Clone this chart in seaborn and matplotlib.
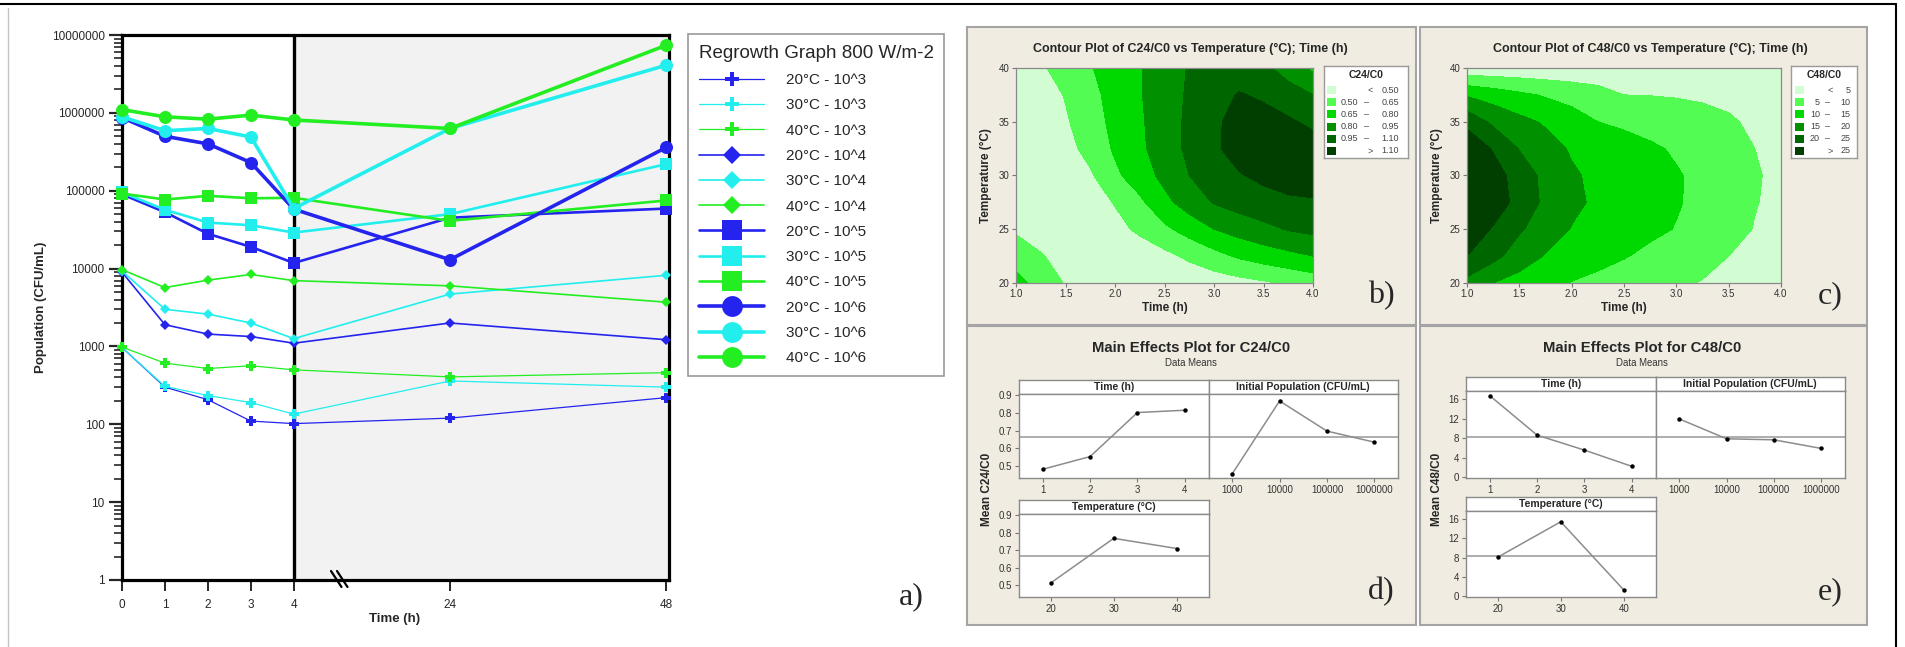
import numpy as np
import matplotlib
matplotlib.use("Agg")
import matplotlib.pyplot as plt
import seaborn as sns
from matplotlib.lines import Line2D
from matplotlib.patches import Rectangle
from matplotlib.ticker import FixedLocator, FuncFormatter, LogLocator, NullFormatter, NullLocator

# ---------------- panel a: regrowth curves ----------------
hours = [0, 1, 2, 3, 4, 24, 48]
c20_1e3 = [970, 300, 207, 110, 102, 120, 220]
c30_1e3 = [970, 307, 234, 190, 135, 360, 300]
c40_1e3 = [980, 610, 520, 565, 500, 406, 460]
c20_1e4 = [9000, 1900, 1440, 1340, 1100, 2000, 1220]
c30_1e4 = [9300, 3000, 2600, 2000, 1260, 4700, 8200]
c40_1e4 = [9700, 5700, 7100, 8400, 7000, 6000, 3700]
c20_1e5 = [90000, 53000, 28000, 19000, 11800, 45000, 59000]
c30_1e5 = [95000, 57000, 39000, 36000, 29000, 50000, 220000]
c40_1e5 = [92000, 77000, 86000, 80000, 81000, 41000, 75000]
c20_1e6 = [870000, 500000, 400000, 230000, 58000, 13000, 360000]
c30_1e6 = [890000, 590000, 630000, 490000, 59000, 630000, 4100000]
c40_1e6 = [1100000, 890000, 830000, 935000, 810000, 630000, 7400000]
series = [c20_1e3, c30_1e3, c40_1e3, c20_1e4, c30_1e4, c40_1e4,
          c20_1e5, c30_1e5, c40_1e5, c20_1e6, c30_1e6, c40_1e6]
series_labels = ["20°C - 10^3", "30°C - 10^3", "40°C - 10^3",
                 "20°C - 10^4", "30°C - 10^4", "40°C - 10^4",
                 "20°C - 10^5", "30°C - 10^5", "40°C - 10^5",
                 "20°C - 10^6", "30°C - 10^6", "40°C - 10^6"]

# ---------------- panels b, c: contour surfaces ----------------
grid_time = [1.0, 1.25, 1.5, 1.75, 2.0, 2.25, 2.5, 2.75, 3.0, 3.25, 3.5, 3.75, 4.0]
grid_temp = [20, 22.5, 25, 27.5, 30, 32.5, 35, 37.5, 40]
c24_grid = [
    [0.70, 0.59, 0.49, 0.43, 0.39, 0.37, 0.37, 0.39, 0.42, 0.45, 0.48, 0.52, 0.56],
    [0.58, 0.51, 0.45, 0.41, 0.39, 0.41, 0.46, 0.53, 0.60, 0.67, 0.72, 0.76, 0.80],
    [0.48, 0.44, 0.41, 0.42, 0.45, 0.53, 0.62, 0.71, 0.80, 0.86, 0.91, 0.96, 0.99],
    [0.33, 0.35, 0.38, 0.43, 0.51, 0.62, 0.76, 0.87, 0.96, 1.01, 1.05, 1.08, 1.09],
    [0.30, 0.35, 0.40, 0.48, 0.62, 0.73, 0.84, 0.95, 1.03, 1.09, 1.13, 1.15, 1.15],
    [0.30, 0.38, 0.45, 0.55, 0.67, 0.77, 0.88, 0.98, 1.08, 1.15, 1.19, 1.19, 1.16],
    [0.30, 0.40, 0.48, 0.60, 0.68, 0.78, 0.88, 0.98, 1.08, 1.14, 1.15, 1.12, 1.07],
    [0.32, 0.42, 0.51, 0.61, 0.70, 0.79, 0.88, 0.97, 1.04, 1.11, 1.08, 1.02, 0.95],
    [0.40, 0.48, 0.56, 0.64, 0.72, 0.79, 0.88, 0.96, 1.01, 1.03, 0.99, 0.88, 0.77],
]
c24_levels = [0, 0.50, 0.65, 0.80, 0.95, 1.10, 2.0]
c24_rows = [("", "<", "0.50"), ("0.50", "–", "0.65"), ("0.65", "–", "0.80"),
            ("0.80", "–", "0.95"), ("0.95", "–", "1.10"), ("", ">", "1.10")]
c48_grid = [
    [18.5, 15.0, 13.2, 11.4, 9.8, 8.7, 7.6, 6.6, 5.6, 4.8, 4.1, 3.5, 3.0],
    [25.0, 21.5, 17.5, 14.7, 13.0, 11.6, 10.3, 8.9, 7.6, 6.3, 5.0, 4.0, 3.2],
    [28.5, 24.5, 20.6, 17.5, 14.8, 13.3, 12.2, 11.0, 9.8, 8.2, 6.6, 4.8, 3.6],
    [32.0, 28.0, 23.2, 19.0, 16.0, 14.2, 13.0, 11.8, 10.4, 8.8, 7.0, 5.2, 4.0],
    [31.0, 27.5, 22.5, 18.8, 15.6, 14.0, 12.8, 11.7, 10.4, 8.9, 7.2, 5.4, 4.0],
    [29.0, 24.5, 19.8, 17.0, 14.5, 13.0, 12.2, 10.8, 9.4, 8.0, 6.6, 5.0, 3.8],
    [23.5, 19.0, 16.4, 14.4, 12.3, 10.0, 9.0, 8.0, 7.2, 6.4, 5.5, 4.3, 3.5],
    [14.5, 12.7, 11.0, 9.5, 8.2, 6.9, 5.0, 4.9, 4.7, 4.4, 4.0, 3.5, 3.0],
    [1.5, 1.5, 1.5, 1.5, 1.5, 1.5, 1.5, 1.5, 1.5, 1.5, 1.5, 1.5, 1.5],
]
c48_levels = [0, 5, 10, 15, 20, 25, 40]
c48_rows = [("", "<", "5"), ("5", "–", "10"), ("10", "–", "15"),
            ("15", "–", "20"), ("20", "–", "25"), ("", ">", "25")]
greens = ["#d2fdd2", "#52fc52", "#00d900", "#009000", "#006600", "#003f00"]

# ---------------- panels d, e: main effects ----------------
time_levels = [1, 2, 3, 4]
pop_levels = [1000, 10000, 100000, 1000000]
temp_levels = [20, 30, 40]
c24_time = [0.483, 0.554, 0.801, 0.814]
c24_pop = [0.457, 0.866, 0.697, 0.635]
c24_temp = [0.513, 0.767, 0.709]
c24_mean = 0.666
c48_time = [16.75, 8.65, 5.58, 2.25]
c48_pop = [11.98, 7.90, 7.69, 5.92]
c48_temp = [8.10, 15.46, 1.29]
c48_mean = 8.3

sns.set_style("ticks")
plt.rcParams['font.family'] = ['Liberation Sans', 'DejaVu Sans']

W, H = 1905, 647
fig = plt.figure(figsize=(W / 100, H / 100), dpi=100)


def box(l, t, r, b):
    return [l / W, 1 - b / H, (r - l) / W, (b - t) / H]


def ftext(x, y, s, **kw):
    kw.setdefault('ha', 'center')
    kw.setdefault('va', 'center')
    fig.text(x / W, 1 - y / H, s, **kw)


# outer frame
fig.add_artist(Line2D([0, 1896 / W], [1 - 4 / H] * 2, transform=fig.transFigure, color='black', lw=1.5))
fig.add_artist(Line2D([1896 / W] * 2, [0, 1 - 4 / H], transform=fig.transFigure, color='black', lw=1.5))
fig.add_artist(Line2D([8 / W] * 2, [0, 1 - 8 / H], transform=fig.transFigure, color='#c4c4c4', lw=1))

# ===== panel a =====
ax = fig.add_axes(box(122, 35, 669, 580))
pos_in = [-10, 0, 4, 24, 48, 200]
pos_out = [-10, 0, 4, 7.636, 12.674, 12.674 + 152 * 5.038 / 24]
ax.set_xscale('function', functions=(lambda v: np.interp(v, pos_in, pos_out),
                                     lambda v: np.interp(v, pos_out, pos_in)))
ax.set_yscale('log')
ax.axvspan(4, 48.3, facecolor='#f2f2f2', zorder=0)
ax.axvline(4, color='black', lw=2.4, zorder=1)

colors = ['#2424ee', '#22eeee', '#22ee22'] * 4
markers = ['P'] * 3 + ['D'] * 3 + ['s'] * 3 + ['o'] * 3
msizes = [7.7] * 3 + [4.8] * 3 + [9.0] * 3 + [9.4] * 3
leg_sizes = [9.4] * 3 + [9.6] * 3 + [14.4] * 3 + [15.0] * 3
widths = [0.9] * 3 + [1.2] * 3 + [1.9] * 3 + [2.6] * 3

for vals, col, mk, ms, lw in zip(series, colors, markers, msizes, widths):
    sns.lineplot(x=hours, y=vals, ax=ax, color=col, marker=mk, markersize=ms,
                 mec=col, mew=0, linewidth=lw, clip_on=False, zorder=3)

ax.set_xlim(0, 48.3)
ax.set_ylim(1, 1e7)
ax.xaxis.set_major_locator(FixedLocator(hours))
ax.xaxis.set_major_formatter(FuncFormatter(lambda v, p: f"{v:.0f}"))
ax.xaxis.set_minor_locator(NullLocator())
ax.yaxis.set_major_locator(FixedLocator([10 ** k for k in range(8)]))
ax.yaxis.set_major_formatter(FuncFormatter(lambda v, p: f"{v:.0f}"))
ax.yaxis.set_minor_locator(LogLocator(base=10, subs=np.arange(2, 10), numticks=100))
ax.yaxis.set_minor_formatter(NullFormatter())
ax.tick_params(axis='y', which='major', direction='out', length=9.5, width=1.6, labelsize=8.5, pad=3)
ax.tick_params(axis='y', which='minor', direction='out', length=5.5, width=1.2)
ax.tick_params(axis='x', which='major', direction='out', length=8, width=1.4, labelsize=8.5, pad=6)
for s in ax.spines.values():
    s.set_linewidth(2.3)
    s.set_color('black')
    s.set_visible(True)

# axis break marks
for dx in (0, 6):
    x0 = (331 + dx - 122) / 547
    x1 = (341.5 + dx - 122) / 547
    ax.plot([x0, x1], [9 / 545, -7 / 545], transform=ax.transAxes, color='black', lw=1.6, clip_on=False)

ftext(395, 619, 'Time (h)', weight='bold', size=9.5)
ftext(41, 307, 'Population (CFU/mL)', weight='bold', size=9.5, rotation=90)

handles = [Line2D([], [], color=c, marker=m, markersize=s, mec=c, mew=0, lw=w)
           for c, m, s, w in zip(colors, markers, leg_sizes, widths)]
leg = ax.legend(handles, series_labels, title='Regrowth Graph 800 W/m-2', loc='upper left',
                bbox_to_anchor=(688 / W, 1 - 34 / H), bbox_transform=fig.transFigure,
                borderaxespad=0, frameon=True, fancybox=False, edgecolor='#9a9a9a', framealpha=1,
                fontsize=11, title_fontsize=13.5, handlelength=4.3, handletextpad=1.4,
                labelspacing=0.74, borderpad=0.7, alignment='left')
leg.get_frame().set_linewidth(1.2)
ftext(911, 597, 'a)', family='Liberation Serif', size=23)

# ===== beige panels =====
beige = '#f0ece2'
for l, t, r, b in [(967, 27, 1416, 325), (1420, 27, 1867, 325),
                   (967, 326, 1416, 625), (1420, 326, 1867, 625)]:
    fig.add_artist(Rectangle((l / W, 1 - b / H), (r - l) / W, (b - t) / H, transform=fig.transFigure,
                             facecolor=beige, edgecolor='#a4a4a4', lw=1.5, zorder=-5))


# ===== panels b, c: contour plots =====
def contour_panel(l, r, grid, levels, name, leg_l, leg_r, rows, cols_x):
    cax = fig.add_axes(box(l, 68, r, 283))
    cax.contourf(grid_time, grid_temp, np.array(grid), levels=levels, colors=greens)
    cax.set_xlim(1, 4)
    cax.set_ylim(20, 40)
    cax.set_xticks([1.0, 1.5, 2.0, 2.5, 3.0, 3.5, 4.0])
    cax.set_yticks([20, 25, 30, 35, 40])
    cax.xaxis.set_major_formatter(FuncFormatter(lambda v, p: f"{v:.1f}"))
    cax.tick_params(direction='out', length=3, width=0.8, color='#777777',
                    labelsize=7, labelcolor='#333333', pad=1.5)
    for s in cax.spines.values():
        s.set_color('#8a8a8a')
        s.set_linewidth(0.9)
    mid = (l + r) / 2
    ftext(mid + 26, 49, f'Contour Plot of {name} vs Temperature (°C); Time (h)', weight='bold', size=9)
    ftext(mid, 308, 'Time (h)', weight='bold', size=8.5)
    ftext(l - 30, 176, 'Temperature (°C)', weight='bold', size=8.5, rotation=90)

    lax = fig.add_axes(box(leg_l, 66, leg_r, 158))
    lax.set_facecolor('white')
    lax.set_xticks([])
    lax.set_yticks([])
    lax.set_xlim(0, 1)
    lax.set_ylim(0, 1)
    for s in lax.spines.values():
        s.set_color('#9a9a9a')
        s.set_linewidth(1)
    lax.text(0.5, 0.902, name, ha='center', va='center', weight='bold', size=7.5)
    sq0, sq1, low_r, dash_x, high_r = cols_x
    for (lo, sym, hi), yy, c in zip(rows, [0.739, 0.605, 0.475, 0.340, 0.207, 0.079], greens):
        lax.add_patch(Rectangle((sq0, yy - 0.045), sq1 - sq0, 0.09, facecolor=c, edgecolor='none'))
        if lo:
            lax.text(low_r, yy, lo, ha='right', va='center', size=6.5, color='#444444')
            lax.text(dash_x, yy, sym, ha='center', va='center', size=6.5, color='#444444')
        else:
            lax.text(dash_x + 0.05, yy, sym, ha='center', va='center', size=6.5, color='#444444')
        lax.text(high_r, yy, hi, ha='right', va='center', size=6.5, color='#444444')


contour_panel(1016, 1313, c24_grid, c24_levels, 'C24/C0', 1324, 1408, c24_rows,
              (0.035, 0.145, 0.41, 0.50, 0.89))
contour_panel(1467, 1781, c48_grid, c48_levels, 'C48/C0', 1791, 1857, c48_rows,
              (0.065, 0.2, 0.44, 0.55, 0.90))
ftext(1381, 296, 'b)', family='Liberation Serif', size=23)
ftext(1830, 296, 'c)', family='Liberation Serif', size=23)


# ===== panels d, e: main effects =====
def effect(strip_box, plot_box, x, y, mean, head, ylim, yticks, xlim, xlabels, show_y, logx=False):
    sax = fig.add_axes(box(*strip_box))
    sax.set_facecolor('white')
    sax.set_xticks([])
    sax.set_yticks([])
    sax.text(0.5, 0.5, head, ha='center', va='center', weight='bold', size=7.5,
             transform=sax.transAxes)
    pax = fig.add_axes(box(*plot_box))
    if logx:
        pax.set_xscale('log')
    pax.axhline(mean, color='#a0a0a0', lw=1.2, zorder=1)
    sns.lineplot(x=x, y=y, ax=pax, color='#8c8c8c', linewidth=1.1, marker='o', markersize=3.2,
                 mfc='black', mec='black', mew=0, zorder=3)
    pax.set_xlim(*xlim)
    pax.set_ylim(*ylim)
    pax.xaxis.set_major_locator(FixedLocator(x))
    pax.xaxis.set_minor_locator(NullLocator())
    pax.set_xticklabels(xlabels)
    if show_y:
        pax.set_yticks(yticks)
    else:
        pax.set_yticks([])
    pax.tick_params(direction='out', length=3, width=0.8, color='#777777',
                    labelsize=7, labelcolor='#333333', pad=2)
    for a in (sax, pax):
        for s in a.spines.values():
            s.set_color('#8a8a8a')
            s.set_linewidth(1)


def effects_panel(l, mid, top, strip_h, data_t, data_p, data_s, mean, ylim, yticks, name, ylab_x):
    w = 189.5
    xt = [str(v) for v in time_levels]
    xp = [str(v) for v in pop_levels]
    xs = [str(v) for v in temp_levels]
    effect((l, top, l + w, top + strip_h), (l, top + strip_h, l + w, 478), time_levels, data_t, mean,
           'Time (h)', ylim, yticks, (0.5, 4.5), xt, True)
    effect((l + w, top, l + 2 * w, top + strip_h), (l + w, top + strip_h, l + 2 * w, 478), pop_levels,
           data_p, mean, 'Initial Population (CFU/mL)', ylim, yticks, (10 ** 2.5, 10 ** 6.5), xp,
           False, logx=True)
    effect((l, top + 120, l + w, top + 120 + strip_h), (l, top + 120 + strip_h, l + w, 597), temp_levels,
           data_s, mean, 'Temperature (°C)', ylim, yticks, (15, 45), xs, True)
    ftext(mid, 348, f'Main Effects Plot for {name}', weight='bold', size=10.7)
    ftext(mid, 363, 'Data Means', size=6.9, color='#333333')
    ftext(ylab_x, 489, f'Mean {name}', weight='bold', size=8.5, rotation=90)


effects_panel(1019, 1191, 380, 14, c24_time, c24_pop, c24_temp, c24_mean, (0.434, 0.905),
              [0.5, 0.6, 0.7, 0.8, 0.9], 'C24/C0', 987)
effects_panel(1466, 1642, 377, 14, c48_time, c48_pop, c48_temp, c48_mean, (-0.14, 17.7),
              [0, 4, 8, 12, 16], 'C48/C0', 1437)
ftext(1381, 592, 'd)', family='Liberation Serif', size=23)
ftext(1830, 592, 'e)', family='Liberation Serif', size=23)

fig.savefig('out.png', dpi=100)
